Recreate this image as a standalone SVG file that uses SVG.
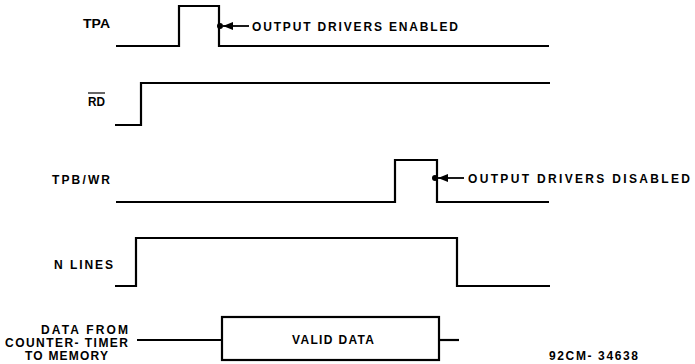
<svg xmlns="http://www.w3.org/2000/svg" width="695" height="364" viewBox="0 0 695 364">
<style>
text{font-family:"Liberation Sans",Arial,sans-serif;font-weight:bold;font-size:12px;fill:#000}
.w{fill:none;stroke:#000;stroke-width:2.2;stroke-linejoin:miter}
.a{fill:none;stroke:#000;stroke-width:1.8}
</style>
<defs>
<marker id="ah" viewBox="0 0 10 8" refX="10" refY="4" markerWidth="10" markerHeight="8" markerUnits="userSpaceOnUse" orient="auto"><path d="M0,0 L10,4 L0,8 Z" fill="#000"/></marker>
</defs>
<rect width="695" height="364" fill="#fff"/>
<g id="tpa">
<text x="83" y="28" textLength="27" lengthAdjust="spacingAndGlyphs">TPA</text>
<path class="w" d="M116,46 H179 V6 H219 V46 H549"/>
<circle cx="220" cy="26" r="3" fill="#000"/>
</g>
<g id="rd">
<text x="88" y="106" textLength="17" lengthAdjust="spacingAndGlyphs">RD</text>
<line x1="88" y1="93" x2="105" y2="93" stroke="#000" stroke-width="1.2"/>
<path class="w" d="M115,125 H141 V83 H550"/>
</g>
<g id="tpbwr">
<text x="52" y="184" textLength="58" lengthAdjust="spacing">TPB/WR</text>
<path class="w" d="M116,202 H395 V160 H437 V202 H549"/>
<circle cx="435" cy="178" r="3" fill="#000"/>
</g>
<g id="nlines">
<text x="54" y="269" textLength="59" lengthAdjust="spacing">N LINES</text>
<path class="w" d="M115,286 H136 V238 H457 V286 H550"/>
</g>
<g id="data">
<text x="41" y="334" textLength="87" lengthAdjust="spacing">DATA FROM</text>
<text x="5" y="347" textLength="123" lengthAdjust="spacing">COUNTER- TIMER</text>
<text x="25" y="360" textLength="83" lengthAdjust="spacing">TO MEMORY</text>
<path class="w" d="M137,340 H222"/>
<rect class="w" x="222" y="317" width="217" height="43"/>
<path class="w" d="M439,340 H459"/>
<text x="292" y="344" textLength="82" lengthAdjust="spacing">VALID DATA</text>
</g>
<g id="notes">
<text x="252" y="31" textLength="206" lengthAdjust="spacing">OUTPUT DRIVERS ENABLED</text>
<text x="468" y="183" textLength="222" lengthAdjust="spacing">OUTPUT DRIVERS DISABLED</text>
<text x="549" y="360" textLength="89" lengthAdjust="spacing">92CM- 34638</text>
</g>
<g id="connectors">
<line class="a" x1="249" y1="26" x2="223" y2="26" marker-end="url(#ah)"/>
<line class="a" x1="464" y1="178" x2="438" y2="178" marker-end="url(#ah)"/>
</g>
</svg>
